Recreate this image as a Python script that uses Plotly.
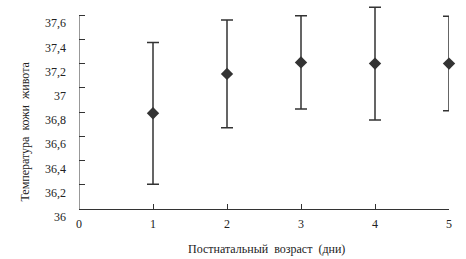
import plotly.graph_objects as go

days = [1, 2, 3, 4, 5]
temp_mean = [36.79, 37.115, 37.21, 37.2, 37.2]
temp_err = [0.585, 0.445, 0.385, 0.465, 0.39]

y_tickvals = [36, 36.2, 36.4, 36.6, 36.8, 37, 37.2, 37.4, 37.6]
y_ticktext = ["36", "36,2", "36,4", "36,6", "36,8", "37", "37,2", "37,4", "37,6"]
x_tickvals = [0, 1, 2, 3, 4, 5]

x_title = "Постнатальный  возраст  (дни)"
y_title = "Температура  кожи  живота"

FONT = "Liberation Serif"
INK = "#333333"

fig = go.Figure()
fig.add_trace(go.Scatter(
    x=days, y=temp_mean, mode="markers",
    marker=dict(symbol="diamond", size=9.5, color=INK, line=dict(width=0)),
    error_y=dict(type="data", array=temp_err, visible=True,
                 color=INK, thickness=1.5, width=6),
    cliponaxis=False, showlegend=False,
))

# y-axis line drawn only over the labelled span (36 .. 37.6)
fig.add_shape(type="line", xref="x", yref="y", x0=0, x1=0,
              y0=y_tickvals[0], y1=y_tickvals[-1],
              line=dict(color=INK, width=1))

fig.update_layout(
    width=466, height=259,
    margin=dict(l=79, r=17, t=3, b=50, autoexpand=False),
    paper_bgcolor="white", plot_bgcolor="white",
    font=dict(family=FONT, size=12, color="#222222"),
    xaxis=dict(range=[0, 5], tickvals=x_tickvals, ticks="inside", ticklen=5,
               tickcolor=INK, showline=True, linecolor=INK, linewidth=1,
               showgrid=False, zeroline=False, ticklabelstandoff=4,
               automargin=False),
    yaxis=dict(range=[36, 37.7], tickvals=y_tickvals, ticktext=y_ticktext,
               ticks="inside", ticklen=6, tickcolor=INK, showline=False,
               showgrid=False, zeroline=False,
               ticklabelshift=8, ticklabelstandoff=12, automargin=False),
    annotations=[
        dict(text=x_title, xref="paper", yref="paper", x=0.508, y=-0.194,
             yanchor="middle", xanchor="center", showarrow=False,
             font=dict(family=FONT, size=12, color="#222222")),
        dict(text=y_title, xref="paper", yref="paper", x=-0.147, y=0.374,
             xanchor="center", yanchor="middle", textangle=-90, showarrow=False,
             font=dict(family=FONT, size=12, color="#222222")),
    ],
)

fig.write_html("out.html")
